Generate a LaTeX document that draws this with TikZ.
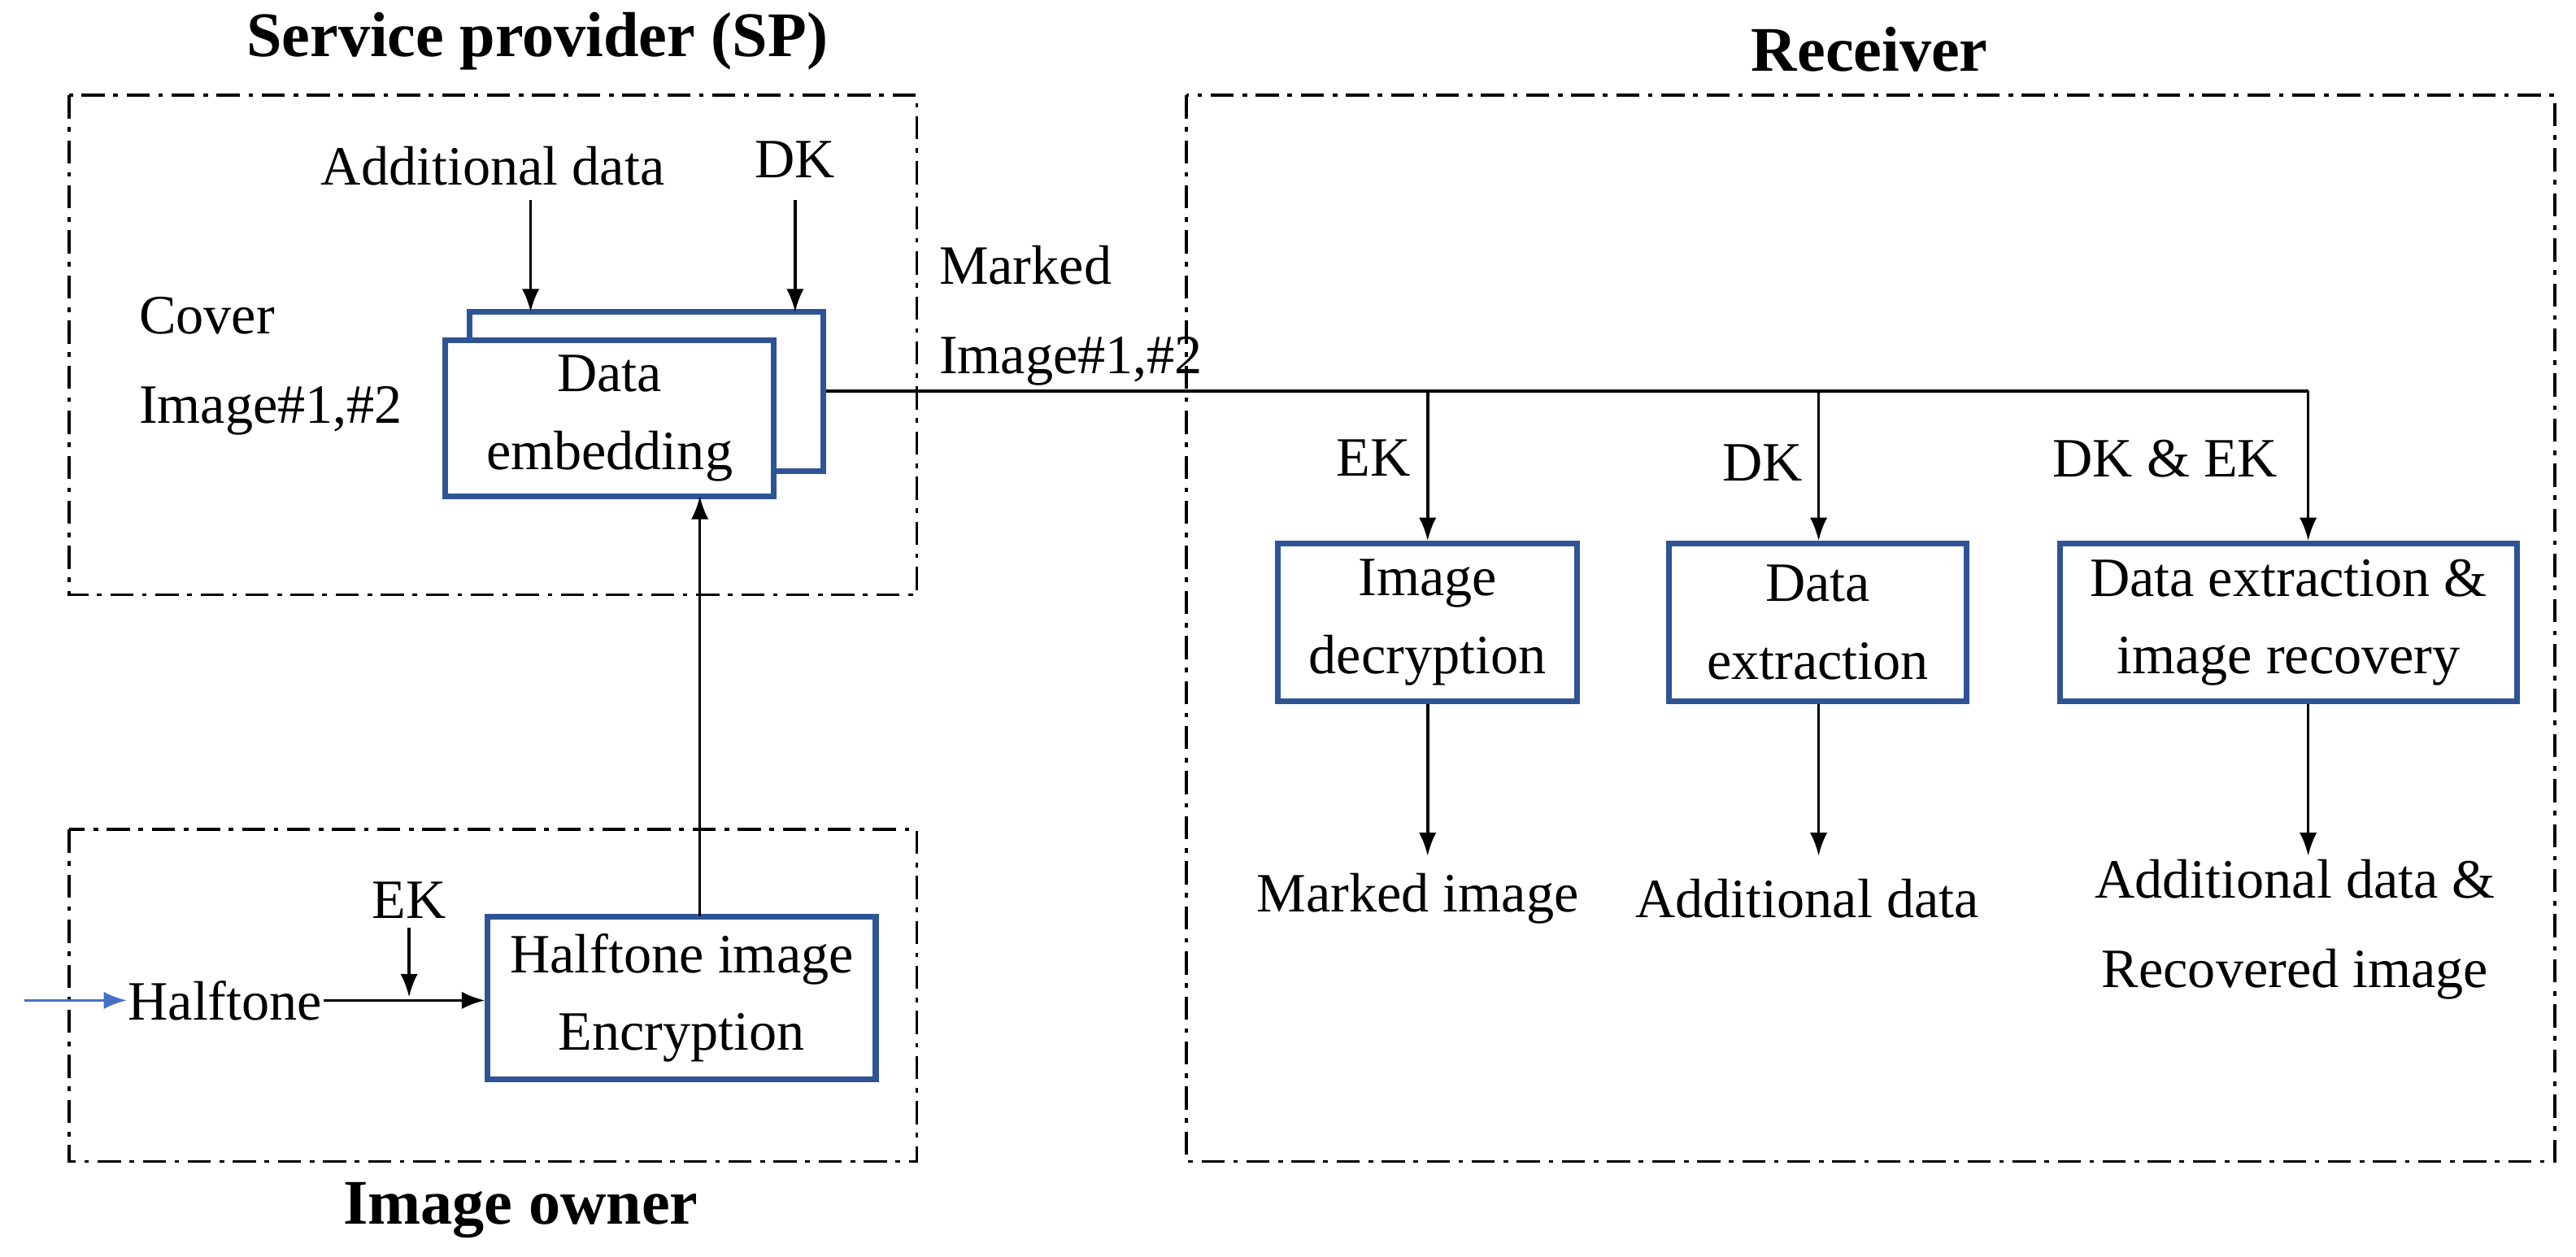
\documentclass[tikz,border=0pt]{standalone}
\usepackage{fontspec}
\setmainfont{Liberation Serif}
\usetikzlibrary{arrows.meta}
\definecolor{bx}{RGB}{47,84,150}
\definecolor{ba}{RGB}{68,114,196}
\begin{document}
\begin{tikzpicture}[x=0.01cm,y=-0.01cm,font=\fontsize{9.6}{11.5}\selectfont,
 grp/.style={draw,line width=0.5pt,dash pattern=on 4pt off 1.5pt on 0.8pt off 1.5pt},
 blk/.style={draw=bx,line width=1pt,fill=white,align=center,inner sep=0},
 lbl/.style={align=center,inner sep=0},
 arr/.style={-{Latex[length=4pt,width=3pt]},line width=0.5pt},
 ttl/.style={font=\fontsize{11}{13}\selectfont\bfseries}]
\useasboundingbox (0,0) rectangle (1568,765);
\draw[grp] (42,58) rectangle (558,362);
\draw[grp] (42,505) rectangle (558,707);
\draw[grp] (722,58) rectangle (1555,707);
\node[ttl] (tsp) at (327,25) {Service provider (SP)};
\node[ttl] (tio) at (317,737) {Image owner};
\node[ttl] (trc) at (1138,30) {Receiver};
% embedding
\node[blk,minimum width=2.15cm,minimum height=0.97cm] (back) at (393.5,238.5) {};
\node[blk,minimum width=2.0cm,minimum height=0.95cm] (emb) at (371,254.5) {Data\\[2pt]embedding};
\node[lbl] (ad) at (300,101) {Additional data};
\node[lbl] (dk) at (484,97) {DK};
\coordinate (a1s) at (323,122);
\coordinate (a1e) at (323,190);
\coordinate (a2s) at (484,122);
\coordinate (a2e) at (484,190);
\draw[arr] (a1s) -- (a1e);
\draw[arr] (a2s) -- (a2e);
\node[lbl,align=left,anchor=west] (cov) at (84,223) {Cover\\[4pt]Image\#1,\#2};
\node[lbl,align=left,anchor=west] (mk) at (571,192) {Marked\\[4pt]Image\#1,\#2};
% receiver
\node[blk,minimum width=1.82cm,minimum height=0.96cm] (dec) at (869,379) {Image\\[2pt]decryption};
\node[blk,minimum width=1.81cm,minimum height=0.96cm] (ext) at (1106.5,379) {Data\\[2pt]extraction};
\node[blk,minimum width=2.78cm,minimum height=0.96cm] (rec) at (1393,379) {Data extraction \&\\[2pt]image recovery};
\coordinate (j1) at (869,238);
\coordinate (j2) at (1107,238);
\coordinate (j3) at (1405,238);
\draw[line width=0.5pt] (back.east|-j1) -- (j3);
\draw[arr] (j1) -- (dec.north);
\draw[arr] (j2) -- (j2|-ext.north);
\draw[arr] (j3) -- (j3|-rec.north);
\node[lbl] (ek1) at (836,279) {EK};
\node[lbl] (dk1) at (1073,282) {DK};
\node[lbl] (dk2) at (1318,279) {DK \& EK};
\node[lbl] (o1) at (863,547) {Marked image};
\node[lbl] (o2) at (1100,547) {Additional data};
\node[lbl] (o3) at (1397,566) {Additional data \&\\[4pt]Recovered image};
\coordinate (e1) at (869,521);
\coordinate (e2) at (1107,521);
\coordinate (e3) at (1405,521);
\draw[arr] (dec.south) -- (e1);
\draw[arr] (ext.south-|j2) -- (e2);
\draw[arr] (rec.south-|j3) -- (e3);
% owner
\node[blk,minimum width=2.36cm,minimum height=0.99cm] (enc) at (415,607.5) {Halftone image\\[2pt]Encryption};
\node[lbl] (ht) at (137,609) {Halftone};
\coordinate (in) at (15,609);
\draw[arr,ba] (in) -- (ht.west);
\draw[arr] (ht.east) -- (enc.west|-ht);
\node[lbl] (ek2) at (249,548) {EK};
\coordinate (k1) at (249,565);
\coordinate (k2) at (249,607);
\draw[arr] (k1) -- (k2);
\coordinate (u1) at (426,558);
\coordinate (u2) at (426,302);
\draw[arr] (u1) -- (u2);
\end{tikzpicture}
\end{document}
